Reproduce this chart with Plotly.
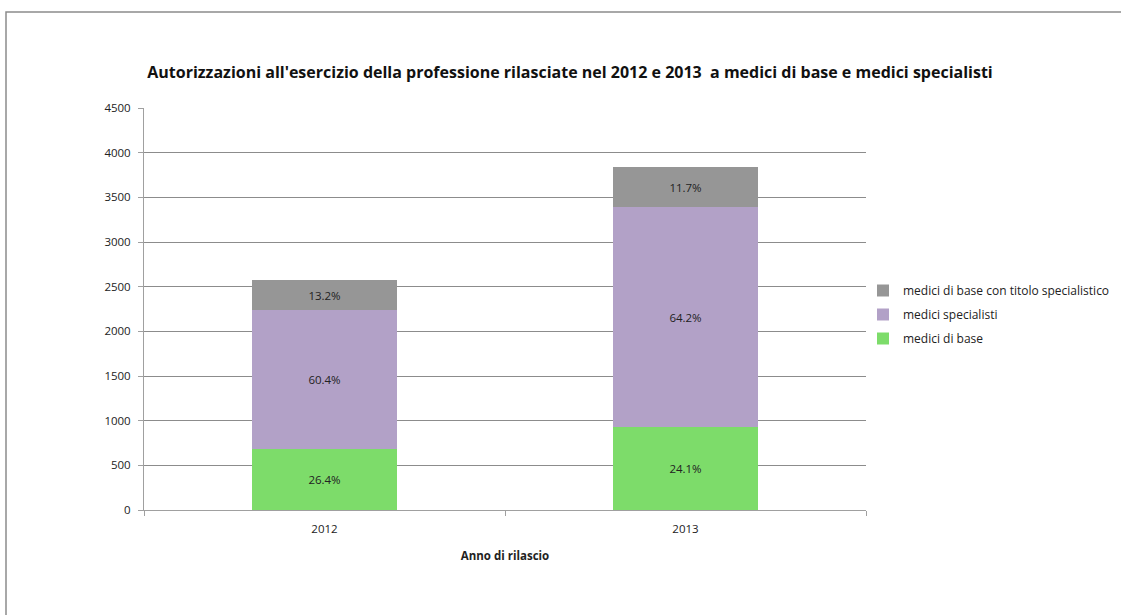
import plotly.graph_objects as go

years = ["2012", "2013"]
medici_base = [680, 925]
medici_specialisti = [1556, 2465]
medici_base_titolo = [340, 449]

series = [
    ("medici di base", medici_base, "#7ddc6a"),
    ("medici specialisti", medici_specialisti, "#b2a1c7"),
    ("medici di base con titolo specialistico", medici_base_titolo, "#969696"),
]
totals = [sum(v) for v in zip(medici_base, medici_specialisti, medici_base_titolo)]

W, H = 1121, 615
L, R, T, B = 144, 866, 108, 510

fig = go.Figure()
for i, (name, vals, col) in enumerate(series):
    fig.add_trace(go.Bar(
        x=years, y=vals, name=name, legendgroup=f"g{i}", legendrank=10 - i,
        marker=dict(color=col, line=dict(width=0)),
        text=[f"{v / t * 100:.1f}%" for v, t in zip(vals, totals)],
        textposition="inside", insidetextanchor="middle",
        textfont=dict(family="Open Sans", size=11.5, color="#222"),
    ))

fig.update_layout(
    width=W, height=H, barmode="stack", bargap=0.6,
    margin=dict(l=L, r=W - R, t=T, b=H - B, autoexpand=False),
    paper_bgcolor="white", plot_bgcolor="white",
    font=dict(family="Open Sans", size=11.5, color="#222"),
    title=dict(text="<b>Autorizzazioni all'esercizio della professione rilasciate nel 2012 e 2013  a medici di base e medici specialisti</b>",
               x=570 / W, xanchor="center", y=1 - 72 / H, yanchor="middle",
               font=dict(family="Open Sans", size=16, color="#111")),
    legend=dict(x=(863 - L) / (R - L), xanchor="left", y=(B - 276) / (B - T), yanchor="top",
                traceorder="grouped", font=dict(size=12), itemwidth=30,
                bgcolor="rgba(0,0,0,0)", tracegroupgap=5),
    xaxis=dict(type="category", range=[-0.5, 1.5], showline=True, linecolor="#a0a0a0",
               ticks="outside", tickson="boundaries", ticklen=5, tickcolor="#a0a0a0",
               ticklabelstandoff=8,
               title=dict(text="<b>Anno di rilascio</b>", font=dict(size=11.5), standoff=17),
               showgrid=False),
    yaxis=dict(range=[0, 4500], dtick=500, showgrid=True, gridcolor="#8c8c8c", gridwidth=1,
               showline=True, linecolor="#a0a0a0", ticks="outside", ticklen=5,
               tickcolor="#a0a0a0", zeroline=False, ticklabelstandoff=5),
    showlegend=True,
)

fig.add_shape(type="rect", xref="paper", yref="paper",
              x0=(6 - L) / (R - L), x1=(1130 - L) / (R - L),
              y0=(B - 625) / (B - T), y1=(B - 12) / (B - T),
              line=dict(color="#8c8c8c", width=1.5), fillcolor="rgba(0,0,0,0)", layer="below")

fig.write_html("out.html", config={"responsive": False, "displayModeBar": False},
               post_script="document.body.style.margin='0';document.body.style.overflow='hidden';")
